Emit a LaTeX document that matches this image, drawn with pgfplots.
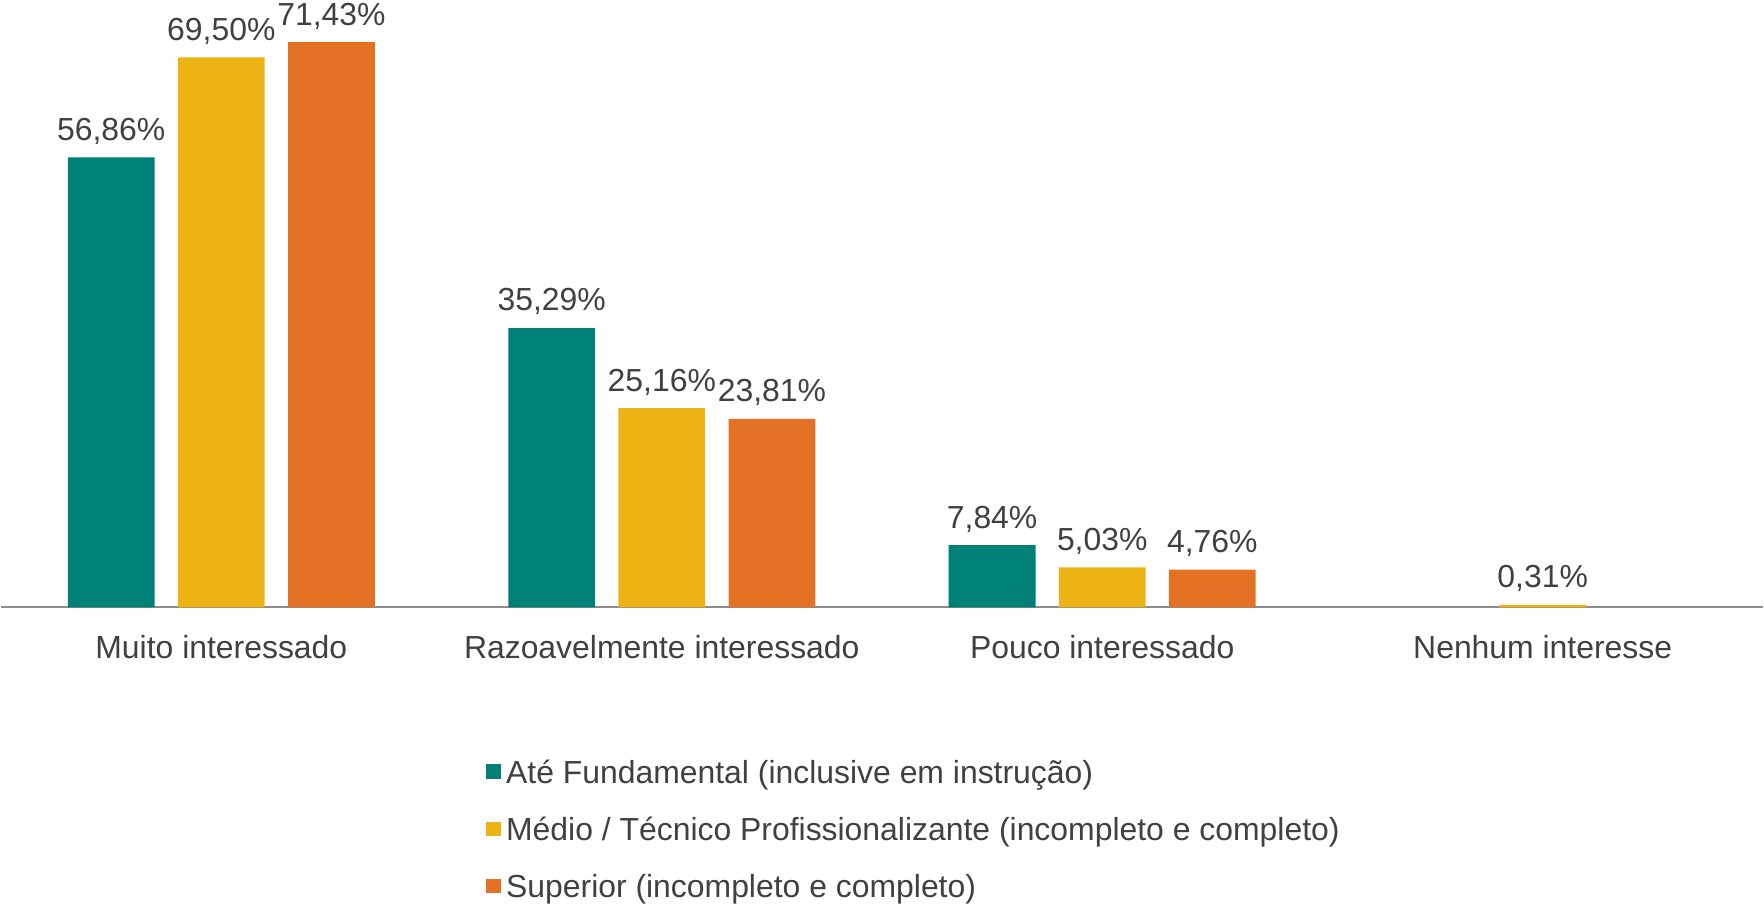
\documentclass[border=0pt]{standalone}
\usepackage{fontspec}
\setmainfont{Liberation Sans}
\usepackage{pgfplots}
\pgfplotsset{compat=1.18}
\definecolor{tealc}{HTML}{008077}
\definecolor{yelc}{HTML}{EDB214}
\definecolor{orac}{HTML}{E37224}
\definecolor{txtc}{HTML}{404040}
\definecolor{axc}{HTML}{8C8C8C}
\begin{document}
\fontsize{11.5}{13.8}\selectfont
\begin{tikzpicture}
\begin{axis}[
  scale only axis, width=635pt, height=211pt,
  xmin=-0.5, xmax=3.5, ymin=0, ymax=74,
  axis y line=none, axis x line=bottom,
  x axis line style={-, draw=axc, line width=0.8pt},
  xtick={0,1,2,3},
  xticklabels={Muito interessado, Razoavelmente interessado, Pouco interessado, Nenhum interesse},
  major tick length=0pt,
  xticklabel style={font=\fontsize{11.5}{13.8}\selectfont, text=txtc, yshift=-6pt},
  ybar, bar width=0.197,
  clip=false,
  nodes near coords={\pgfmathprintnumber[fixed,zerofill,precision=2,use comma,assume math mode=true]{\pgfplotspointmeta}\%},
  every node near coord/.append style={font=\fontsize{11.5}{13.8}\selectfont, text=txtc,
    inner sep=1pt, yshift=3.5pt},
  legend style={at={(0.275,-0.25)}, anchor=north west, draw=none, fill=none,
    font=\fontsize{11.5}{13.8}\selectfont, text=txtc, row sep=8.2pt, inner sep=0pt,
    nodes={text depth=0pt}},
  legend cell align=left,
  legend image code/.code={\fill[#1] (0pt,-2.6pt) rectangle (5.2pt,2.6pt);},
]
\addplot[fill=tealc, draw=none, bar shift=-0.25] coordinates {(0,56.86)(1,35.29)(2,7.84)};
\addlegendentry{Até Fundamental (inclusive em instrução)}
\addplot[fill=yelc, draw=none, bar shift=0] coordinates {(0,69.50)(1,25.16)(2,5.03)(3,0.31)};
\addlegendentry{Médio / Técnico Profissionalizante (incompleto e completo)}
\addplot[fill=orac, draw=none, bar shift=0.25] coordinates {(0,71.43)(1,23.81)(2,4.76)};
\addlegendentry{Superior (incompleto e completo)}
\end{axis}
\end{tikzpicture}
\end{document}
